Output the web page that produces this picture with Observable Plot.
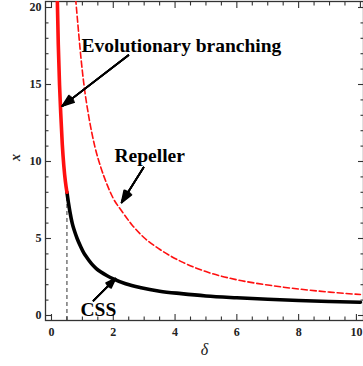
<!DOCTYPE html>
<html><head><meta charset="utf-8">
<script src="https://cdn.jsdelivr.net/npm/d3@7"></script>
<script src="https://cdn.jsdelivr.net/npm/@observablehq/plot@0.6"></script>
<style>html,body{margin:0;padding:0;background:#fff}</style>
</head><body><div id="chart"></div>
<script>
// CSS branch (black, solid)
const cssDelta = [0.50, 0.55, 0.60, 0.67, 0.75, 0.83, 0.95, 1.05, 1.15, 1.30, 1.45, 1.60, 1.80, 2.00, 2.40, 2.90, 3.50, 4.20, 5.00, 6.00, 7.00, 8.00, 9.00, 10.00];
const cssX     = [8.00, 7.30, 6.70, 6.00, 5.45, 5.00, 4.45, 4.05, 3.75, 3.35, 3.05, 2.82, 2.58, 2.38, 2.06, 1.80, 1.58, 1.42, 1.27, 1.15, 1.05, 0.97, 0.91, 0.86];
// Evolutionary branching part (red, solid)
const branchDelta = [0.19, 0.22, 0.26, 0.30, 0.35, 0.40, 0.45, 0.50];
const branchX     = [20.4, 17.6, 15.0, 13.1, 11.1, 9.7, 8.7, 8.0];
// Repeller (red, dashed)
const repDelta = [0.78, 0.85, 0.95, 1.05, 1.20, 1.40, 1.60, 1.80, 2.00, 2.25, 2.60, 3.00, 3.50, 4.20, 5.00, 6.00, 7.00, 8.00, 9.00, 10.00];
const repX     = [20.6, 19.0, 16.8, 15.0, 13.0, 11.0, 9.6, 8.5, 7.6, 6.85, 5.9, 5.05, 4.3, 3.5, 2.85, 2.32, 1.98, 1.72, 1.52, 1.36];
// split point between the two branches
const splitDelta = 0.5, splitX = 8.0;

// ticks
const xMajor = [0, 2, 4, 6, 8];
const xMajorLast = [10];
const xMinor = [0.5, 1, 1.5, 2.5, 3, 3.5, 4.5, 5, 5.5, 6.5, 7, 7.5, 8.5, 9, 9.5];
const yMajor = [0, 5, 10, 15, 20];
const yMinor = [1, 2, 3, 4, 6, 7, 8, 9, 11, 12, 13, 14, 16, 17, 18, 19];
const xDomain = [-0.194, 10.1];
const yDomain = [-0.325, 20.39];

// annotations
const annText  = ["Evolutionary branching", "Repeller", "CSS"];
const annDelta = [0.97, 2.04, 0.94];
const annX     = [17.14, 10.0, -0.06];
const arrowFromDelta = [2.49, 2.98, 1.36];
const arrowFromX     = [16.9, 9.61, 0.97];
const arrowToDelta   = [0.35, 2.27, 2.07];
const arrowToX       = [13.6, 7.34, 2.40];

const css = cssDelta.map((d, i) => ({d, x: cssX[i]}));
const branch = branchDelta.map((d, i) => ({d, x: branchX[i]}));
const rep = repDelta.map((d, i) => ({d, x: repX[i]}));
const ann = annText.map((t, i) => ({t, d: annDelta[i], x: annX[i]}));
const arrows = arrowFromDelta.map((d, i) => ({d1: d, x1: arrowFromX[i], d2: arrowToDelta[i], x2: arrowToX[i]}));

const font = "Liberation Serif";
const axisCommon = {label: null, stroke: "#333", strokeWidth: 1.1, fontFamily: font, fontWeight: "bold", fontSize: 12, fill: "#222"};

const arrowMarks = [40, 28, 16, 6].map(a => Plot.arrow(arrows, {
  x1: "d1", y1: "x1", x2: "d2", y2: "x2",
  stroke: "#000", strokeWidth: 1.7, headLength: 11, headAngle: a
}));

const chart = Plot.plot({
  width: 363, height: 366,
  marginLeft: 45, marginTop: 1, marginRight: 0, marginBottom: 46,
  style: {fontFamily: font, background: "#fff", overflow: "visible"},
  x: {domain: xDomain},
  y: {domain: yDomain},
  marks: [
    Plot.frame({stroke: "#333", strokeWidth: 1.3}),
    Plot.axisX({...axisCommon, anchor: "bottom", ticks: xMajor, tickSize: -6, tickPadding: 13, tickFormat: d => String(d)}),
    Plot.axisX({...axisCommon, anchor: "bottom", ticks: xMajorLast, tickSize: -6, tickPadding: 13, dx: -4, tickFormat: d => String(d)}),
    Plot.axisX({...axisCommon, anchor: "bottom", ticks: xMinor, tickSize: -3.5, text: null}),
    Plot.axisX({...axisCommon, anchor: "top", ticks: [...xMajor, ...xMajorLast], tickSize: -6, text: null}),
    Plot.axisX({...axisCommon, anchor: "top", ticks: xMinor, tickSize: -3.5, text: null}),
    Plot.axisY({...axisCommon, anchor: "left", ticks: yMajor, tickSize: -6, tickPadding: 10, tickFormat: d => String(d)}),
    Plot.axisY({...axisCommon, anchor: "left", ticks: yMinor, tickSize: -3.5, text: null}),
    Plot.axisY({...axisCommon, anchor: "right", ticks: yMajor, tickSize: -6, text: null}),
    Plot.axisY({...axisCommon, anchor: "right", ticks: yMinor, tickSize: -3.5, text: null}),
    Plot.ruleX([splitDelta], {y1: yDomain[0], y2: splitX, stroke: "#333", strokeWidth: 1, strokeDasharray: "4,3"}),
    Plot.line(rep, {x: "d", y: "x", stroke: "#ff1010", strokeWidth: 1.6, strokeDasharray: "6,3", curve: "monotone-x", clip: true}),
    Plot.line(css, {x: "d", y: "x", stroke: "#000", strokeWidth: 3.6, curve: "monotone-x"}),
    Plot.line(branch, {x: "d", y: "x", stroke: "#ff1010", strokeWidth: 3.6, curve: "monotone-x", clip: true}),
    ...arrowMarks,
    Plot.text(ann, {x: "d", y: "x", text: "t", textAnchor: "start", lineAnchor: "bottom", fontFamily: font, fontWeight: "bold", fontSize: 19.5, fill: "#000"}),
    Plot.text(["x"], {frameAnchor: "left", dx: -30, rotate: -90, fontFamily: font, fontStyle: "italic", fontWeight: "bold", fontSize: 14, fill: "#222"}),
    Plot.text(["δ"], {frameAnchor: "bottom", dy: 34, fontFamily: font, fontStyle: "italic", fontSize: 16, fill: "#222"})
  ]
});
document.getElementById("chart").appendChild(chart);
</script>
</body></html>
